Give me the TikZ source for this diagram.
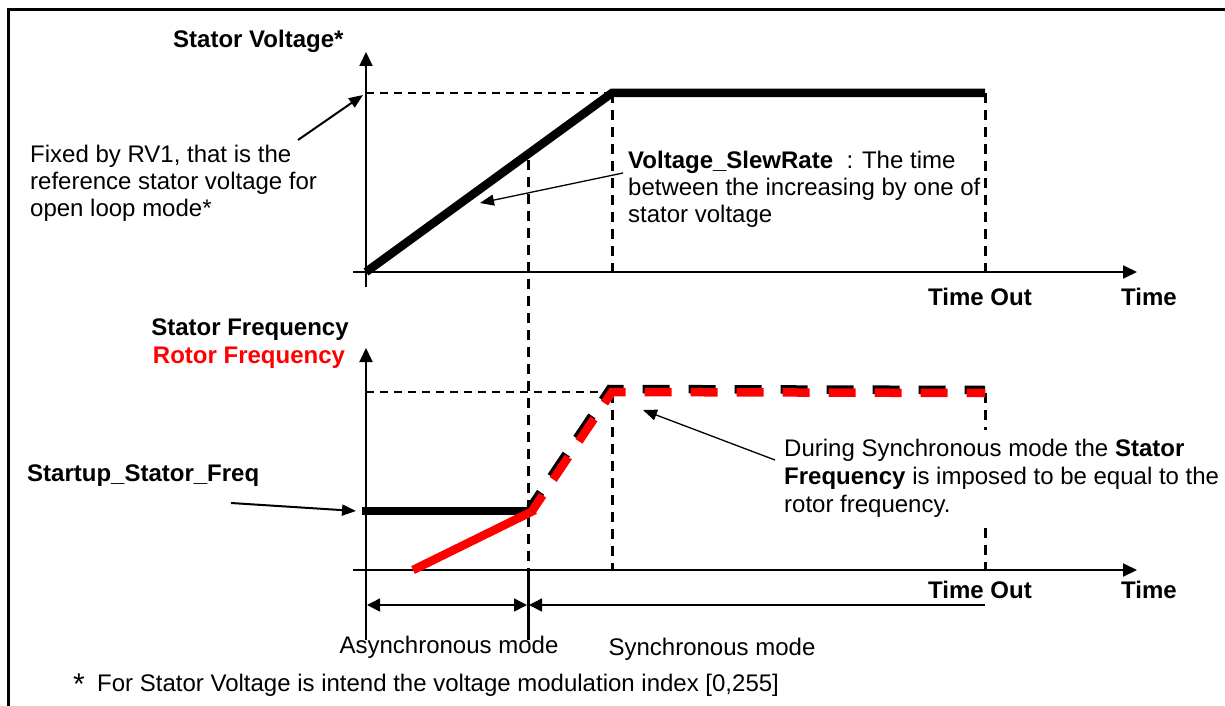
\documentclass[tikz,border=0pt]{standalone}
\usepackage{fontspec}
\setmainfont{Liberation Sans}
\usetikzlibrary{arrows.meta}
\begin{document}
\begin{tikzpicture}[x=1pt,y=-1pt,
  txt/.style={font=\fontsize{24}{27}\selectfont, inner sep=0pt, anchor=base west},
  btxt/.style={txt, font=\fontsize{24}{27}\selectfont\bfseries},
  axisline/.style={line width=2pt, -{Triangle[length=14pt,width=13pt]}},
  annarrow/.style={line width=2pt, -{Triangle[length=14pt,width=11pt]}},
  thinarrow/.style={line width=1.3pt, -{Triangle[length=14pt,width=11pt]}},
  guide/.style={line width=3pt, dash pattern=on 10pt off 7pt},
  hguide/.style={line width=2.4pt, dash pattern=on 8pt off 6pt},
  curve/.style={line width=8.5pt},
  dcurve/.style={line width=8.5pt, dash pattern=on 27pt off 19pt, dash phase=8pt},
  modearrow/.style={line width=1.5pt},
  frameline/.style={line width=3pt}
]
\useasboundingbox (0,0) rectangle (1225,706);
% frame
\coordinate (fl) at (8,706);
\coordinate (fc) at (8,10);
\coordinate (fr) at (1225,10);
\draw[frameline] (fl) -- (fc) -- (fr);

% ---------- top chart ----------
\coordinate (ya0) at (366,287);
\coordinate (ya1) at (366,52);
\coordinate (xa0) at (353,272);
\coordinate (xa1) at (1137,272);
\coordinate (o1) at (366,272);
\coordinate (k1) at (612,93);
\coordinate (e1) at (985,93);
\coordinate (l1) at (366,93);
\draw[hguide] (l1) -- (k1);
\draw[guide] (612,93) -- (612,272);
\draw[guide] (985,93) -- (985,272);
\draw[guide] (528,160) -- (528,570);
\draw[axisline] (ya0) -- (ya1);
\draw[axisline] (xa0) -- (xa1);
\draw[curve] (o1) -- (k1) -- (e1);

\node[btxt] (sv) at (173,48) {Stator Voltage*};
\node[txt] (f1) at (30,162) {Fixed by RV1, that is the};
\node[txt] (f2) at (30,189) {reference stator voltage for};
\node[txt] (f3) at (30,216) {open loop mode*};
\coordinate (fa0) at (298,140);
\coordinate (fa1) at (363,95);
\draw[annarrow] (fa0) -- (fa1);

\node[txt] (v1) at (628,168) {\textbf{Voltage\_SlewRate}~ : The time};
\node[txt] (v2) at (628,195) {between the increasing by one of};
\node[txt] (v3) at (628,222) {stator voltage};
\coordinate (va0) at (623,173);
\coordinate (va1) at (480,203);
\draw[thinarrow] (va0) -- (va1);

\node[btxt, anchor=base] (to1) at (980,305) {Time Out};
\node[btxt, anchor=base] (t1) at (1149,305) {Time};

% ---------- bottom chart ----------
\coordinate (yb0) at (366,640);
\coordinate (yb1) at (366,348);
\coordinate (xb0) at (353,570);
\coordinate (xb1) at (1137,570);
\coordinate (l2) at (366,392);
\coordinate (k2) at (612,392);
\draw[hguide] (l2) -- (k2);
\draw[guide] (612,393) -- (612,570);
\draw[guide] (985,393) -- (985,430);
\draw[guide] (985,528) -- (985,570);
\draw[axisline] (yb0) -- (yb1);
\draw[axisline] (xb0) -- (xb1);

\coordinate (s0) at (362,511);
\coordinate (s1) at (532,511);
\coordinate (r0) at (413,570);
\coordinate (r1) at (535,510);
\coordinate (k3) at (612,392);
\coordinate (e3) at (985,393);
\draw[curve] (s0) -- (s1);
\draw[curve, red] (r0) -- (r1);
\draw[dcurve] ([shift={(-2,-3)}]s1) -- ([shift={(-2,-3)}]k3) -- ([shift={(0,-3)}]e3);
\draw[dcurve, red] (s1) -- (k3) -- (e3);

\node[btxt, anchor=base] (sf) at (250,335) {Stator Frequency};
\node[btxt, anchor=base, text=red] (rf) at (249,363) {Rotor Frequency};
\node[btxt] (ssf) at (27,481) {Startup\_Stator\_Freq};
\coordinate (sa0) at (231,503);
\coordinate (sa1) at (356,511);
\draw[annarrow] (sa0) -- (sa1);

\node[txt] (d1) at (784,456) {During Synchronous mode the \textbf{Stator}};
\node[txt] (d2) at (784,484) {\textbf{Frequency} is imposed to be equal to the};
\node[txt] (d3) at (784,512) {rotor frequency.};
\coordinate (da0) at (775,460);
\coordinate (da1) at (643,410);
\draw[thinarrow] (da0) -- (da1);

\node[btxt, anchor=base] (to2) at (980,598) {Time Out};
\node[btxt, anchor=base] (t2) at (1149,598) {Time};

% ---------- modes ----------
\coordinate (m0) at (528,570);
\coordinate (m1) at (528,640);
\draw[line width=3pt] (m0) -- (m1);
\coordinate (ma) at (367,605);
\coordinate (mb) at (527,605);
\coordinate (mc) at (529,605);
\coordinate (md) at (985,605);
\draw[modearrow, {Triangle[length=13pt,width=13pt]}-{Triangle[length=13pt,width=13pt]}] (ma) -- (mb);
\draw[modearrow, {Triangle[length=13pt,width=13pt]}-] (mc) -- (md);
\node[txt, anchor=base] (am) at (449,653) {Asynchronous mode};
\node[txt, anchor=base] (sm) at (712,655) {Synchronous mode};

\node[txt, font=\fontsize{30}{30}\selectfont] (ast) at (73,694) {*};
\node[txt] (fn) at (97,691) {For Stator Voltage is intend the voltage modulation index [0,255]};
\end{tikzpicture}
\end{document}
